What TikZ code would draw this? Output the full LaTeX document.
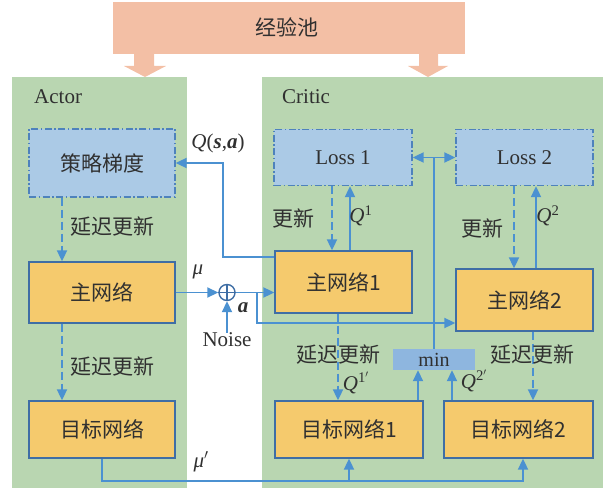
\documentclass[tikz,border=0pt]{standalone}
\usepackage{fontspec}
\setmainfont{Liberation Serif}
\newfontfamily\cjk{Noto Sans CJK SC}
\usetikzlibrary{arrows.meta,calc}
\definecolor{gfill}{HTML}{B9D6B1}
\definecolor{sfill}{HTML}{F3BFA5}
\definecolor{lfill}{HTML}{ABCAE6}
\definecolor{ldraw}{HTML}{4E82BC}
\definecolor{nfill}{HTML}{F5CA6D}
\definecolor{ndraw}{HTML}{3F6EA5}
\definecolor{acol}{HTML}{4B91D1}
\definecolor{mfill}{HTML}{8EB6DF}
\definecolor{tcol}{HTML}{303030}
\begin{document}
\begin{tikzpicture}[x=1pt,y=-1pt,
  every node/.style={text=tcol,font=\fontsize{21}{24}\selectfont,inner sep=0pt},
  cn/.style={font=\cjk\fontsize{21}{24}\selectfont},
  lossbox/.style={draw=ldraw,fill=lfill,line width=1.3pt,
    dash pattern=on 7pt off 2.5pt on 1.5pt off 2.5pt},
  netbox/.style={draw=ndraw,fill=nfill,line width=1.3pt},
  minbox/.style={fill=mfill},
  line/.style={draw=acol,line width=1.8pt},
  conn/.style={line,-{Triangle[length=11pt,width=10pt]}},
  dconn/.style={conn,dash pattern=on 8pt off 4pt},
  bigarrow/.style={fill=sfill}]
\useasboundingbox (0,0) rectangle (605,489);
% experience pool
\fill[sfill] (113,2) rectangle (465,54);
\node[cn] (pool) at (287,27) {经验池};
\fill[bigarrow] (134,50) -- (134,66) -- (124,66) -- (145,77) -- (166,66) -- (154,66) -- (154,50) -- cycle;
\fill[bigarrow] (419,50) -- (419,66) -- (408,66) -- (428,77) -- (448,66) -- (438,66) -- (438,50) -- cycle;
% green panels
\fill[gfill] (12,77) rectangle (187,488);
\fill[gfill] (262,77) rectangle (603,488);
\node[anchor=west] (actor) at (34,97) {Actor};
\node[anchor=west] (critic) at (282,97) {Critic};
% boxes
\node[lossbox,cn,minimum width=146pt,minimum height=68pt] (pg) at (102,163) {策略梯度};
\node[netbox,cn,minimum width=146pt,minimum height=61pt] (zw) at (102,292.5) {主网络};
\node[netbox,cn,minimum width=146pt,minimum height=57pt] (tw) at (102,429.5) {目标网络};
\node[lossbox,minimum width=138pt,minimum height=56pt] (l1) at (343,157.5) {Loss 1};
\node[lossbox,minimum width=137pt,minimum height=56pt] (l2) at (524.5,157.5) {Loss 2};
\node[netbox,cn,minimum width=137pt,minimum height=62pt] (zw1) at (343.5,282) {主网络1};
\node[netbox,cn,minimum width=137pt,minimum height=62pt] (zw2) at (524.5,300) {主网络2};
\node[netbox,cn,minimum width=148pt,minimum height=57pt] (tw1) at (349,429.5) {目标网络1};
\node[netbox,cn,minimum width=149pt,minimum height=57pt] (tw2) at (518.5,429.5) {目标网络2};
\node[minbox,minimum width=82pt,minimum height=21pt,font=\fontsize{20}{22}\selectfont] (mn) at (434,359.5) {min};
% oplus and noise
\node[circle,draw=ndraw,line width=1.4pt,minimum size=16pt] (op) at (227,292.5) {};
\draw[ndraw,line width=1.4pt] (op.north) -- (op.south) (op.west) -- (op.east);
\node (noise) at (227,340) {Noise};
% actor connectors
\draw[dconn] ([xshift=-40pt]pg.south) -- ([xshift=-40pt]zw.north);
\node[cn,anchor=west] (d1) at (70,227) {延迟更新};
\draw[dconn] ([xshift=-40pt]zw.south) -- ([xshift=-40pt]tw.north);
\node[cn,anchor=west] (d2) at (70,367) {延迟更新};
\draw[conn] (zw.east) -- (op.west);
\node (mu) at (198,272) {\itshape μ};
\draw[conn] (noise.north) -- (op.south);
\node (alab) at (243,308) {\bfseries\itshape a};
\draw[conn] (op.east) -- (zw1.west |- op);
\coordinate (br) at (257,292.5);
\draw[conn] (br) |- ([yshift=-23pt]zw2.west);
\coordinate (qc) at (223,257);
\draw[conn] ([yshift=25pt]zw1.west) -- (qc) |- (pg.east);
\node (qsa) at (218,143) {{\itshape Q}({\bfseries\itshape s},{\bfseries\itshape a})};
% critic loss connectors
\draw[dconn] ([xshift=-11pt]l1.south) -- ([xshift=-11pt]l1.south |- zw1.north);
\draw[conn] ([xshift=6.5pt]zw1.north) -- ([xshift=6.5pt]zw1.north |- l1.south);
\node[cn] (u1) at (293,218) {更新};
\node (q1) at (361,216) {{\itshape Q}\textsuperscript{1}};
\draw[dconn] ([xshift=-10.5pt]l2.south) -- ([xshift=-10.5pt]l2.south |- zw2.north);
\draw[conn] ([xshift=11.5pt]zw2.north) -- ([xshift=11.5pt]zw2.north |- l2.south);
\node[cn] (u2) at (482,228) {更新};
\node (q2) at (548,216) {{\itshape Q}\textsuperscript{2}};
\draw[line,{Triangle[length=11pt,width=10pt]}-{Triangle[length=11pt,width=10pt]}] (l1.east) -- (l2.west);
\draw[line] (mn.north) -- (mn.north |- l1.east);
% delayed updates critic
\draw[dconn] ([xshift=-5.5pt]zw1.south) -- ([xshift=-5.5pt]zw1.south |- tw1.north);
\node[cn] (d3) at (338,355) {延迟更新};
\draw[dconn] ([xshift=8.5pt]zw2.south) -- ([xshift=8.5pt]zw2.south |- tw2.north);
\node[cn] (d4) at (532,355) {延迟更新};
\node (q1p) at (356,383) {{\itshape Q}\textsuperscript{1$'$}};
\node (q2p) at (474,381) {{\itshape Q}\textsuperscript{2$'$}};
\draw[conn] ([xshift=69pt]tw1.north) -- ([xshift=69pt]tw1.north |- mn.south);
\draw[conn] ([xshift=-66.5pt]tw2.north) -- ([xshift=-66.5pt]tw2.north |- mn.south);
% target actor output
\coordinate (b2) at (523,481);
\coordinate (b1) at (349,481);
\draw[conn] (tw.south) |- (b2) -- (b2 |- tw2.south);
\draw[conn] (b1) -- (tw1.south);
\node (mup) at (201,462) {{\itshape μ}$'$};
\end{tikzpicture}
\end{document}
